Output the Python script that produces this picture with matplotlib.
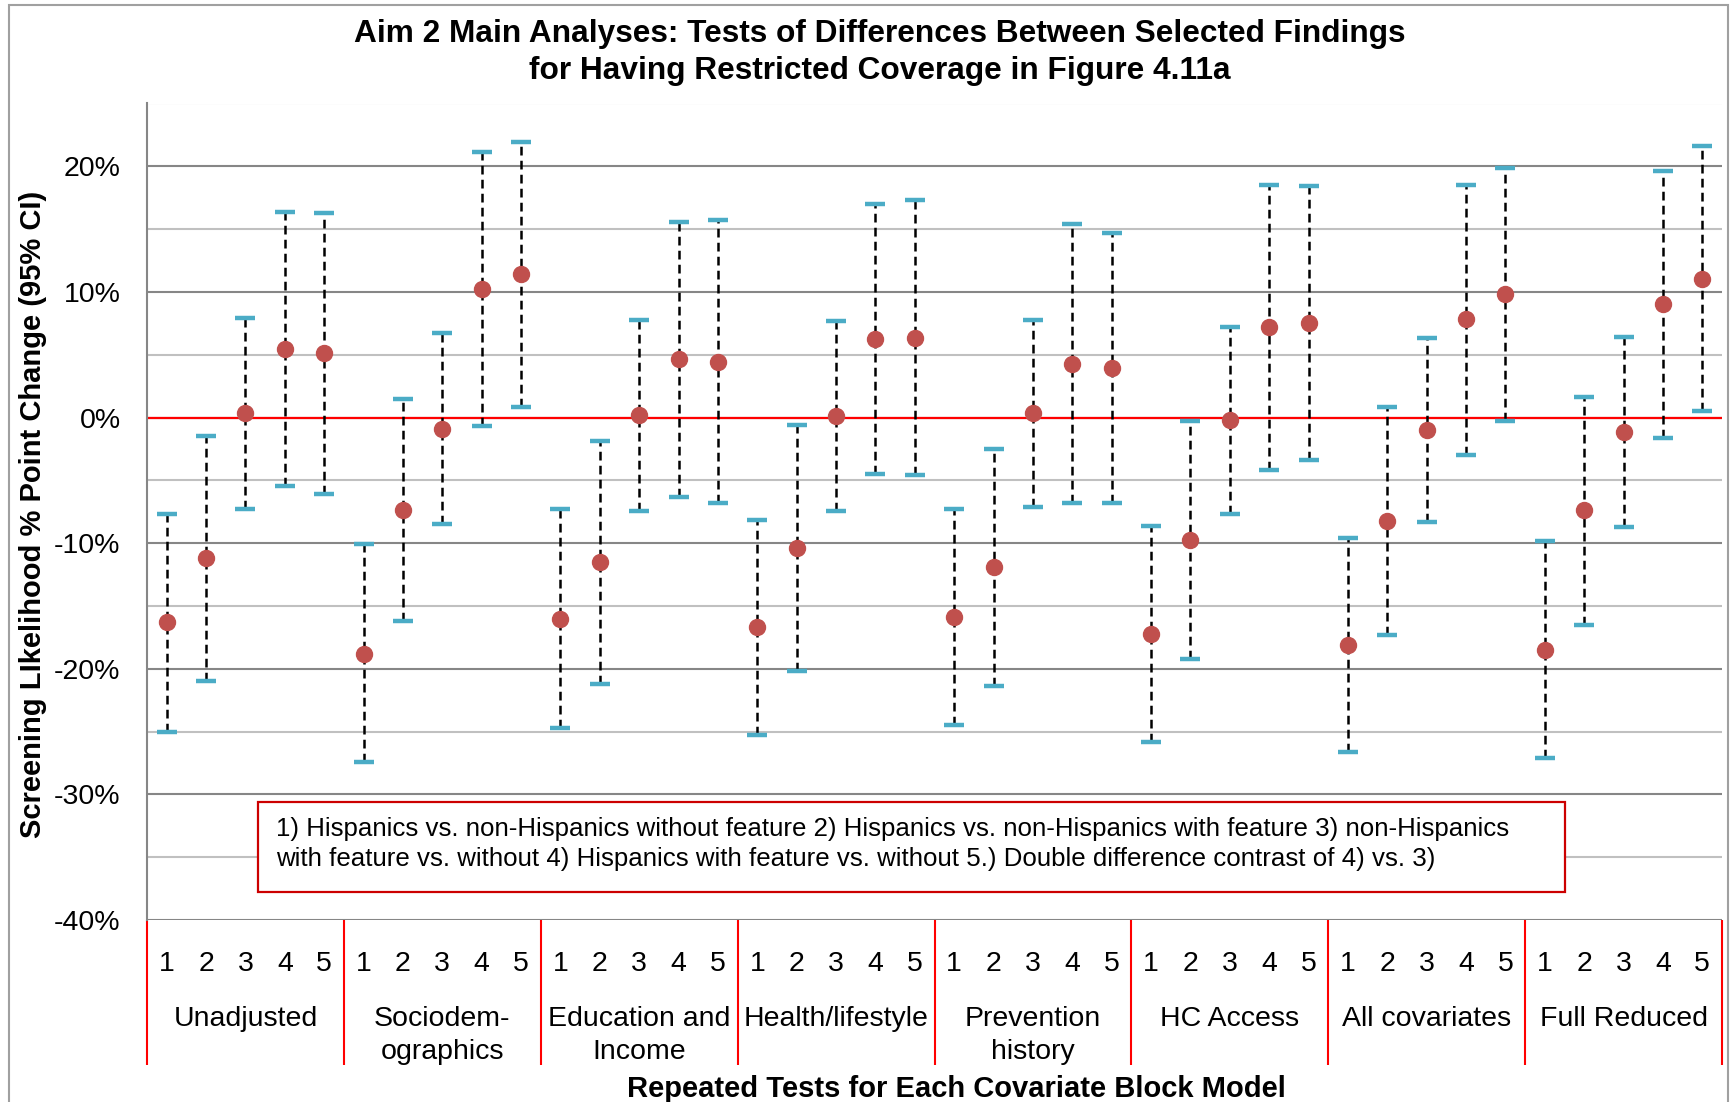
import matplotlib.pyplot as plt
from matplotlib.patches import Rectangle
from matplotlib.ticker import FixedLocator, FuncFormatter

plt.rcParams['font.family'] = ['Liberation Sans', 'DejaVu Sans']

groups = ['Unadjusted', 'Sociodem-\nographics', 'Education and\nIncome', 'Health/lifestyle',
          'Prevention\nhistory', 'HC Access', 'All covariates', 'Full Reduced']
tests = ['1', '2', '3', '4', '5']

estimate = [-16.3, -11.2, 0.35, 5.46, 5.11,
            -18.8, -7.36, -0.9, 10.2, 11.4,
            -16.0, -11.5, 0.17, 4.63, 4.46,
            -16.7, -10.4, 0.14, 6.29, 6.36,
            -15.9, -11.9, 0.35, 4.28, 3.94,
            -17.2, -9.71, -0.21, 7.19, 7.53,
            -18.1, -8.26, -0.97, 7.81, 9.81,
            -18.5, -7.39, -1.14, 9.02, 11.06]
ci_upper = [-7.7, -1.45, 7.95, 16.4, 16.3,
            -10.05, 1.49, 6.7, 21.1, 21.9,
            -7.26, -1.83, 7.77, 15.55, 15.7,
            -8.15, -0.62, 7.7, 17.0, 17.3,
            -7.29, -2.52, 7.74, 15.4, 14.7,
            -8.64, -0.28, 7.22, 18.5, 18.4,
            -9.6, 0.8, 6.36, 18.55, 19.9,
            -9.85, 1.66, 6.43, 19.6, 21.6]
ci_lower = [-25.0, -21.0, -7.25, -5.46, -6.1,
            -27.4, -16.2, -8.5, -0.66, 0.83,
            -24.7, -21.25, -7.43, -6.29, -6.8,
            -25.3, -20.2, -7.46, -4.49, -4.6,
            -24.5, -21.35, -7.12, -6.84, -6.77,
            -25.8, -19.2, -7.64, -4.2, -3.35,
            -26.6, -17.35, -8.29, -2.97, -0.31,
            -27.1, -16.5, -8.74, -1.59, 0.55]

legend_lines = ['1) Hispanics vs. non-Hispanics without feature 2) Hispanics vs. non-Hispanics with feature 3) non-Hispanics',
                'with feature vs. without 4) Hispanics with feature vs. without 5.) Double difference contrast of 4) vs. 3)']

W, H = 1732, 1102
fig = plt.figure(figsize=(W / 100, H / 100), dpi=100)


def fx(x):
    return x / W


def fy(y):
    return 1 - y / H


ax = fig.add_axes([fx(147), fy(920), fx(1722) - fx(147), fy(103.5) - fy(920)])

x = list(range(len(estimate)))
ax.vlines(x, ci_lower, ci_upper, colors='black', linewidth=1.8, linestyles=(0, (3.5, 2.1)), zorder=3)
ax.plot(x, ci_upper, linestyle='none', marker='_', markersize=14, mew=3.2, color='#4BACC6', zorder=4)
ax.plot(x, ci_lower, linestyle='none', marker='_', markersize=14, mew=3.2, color='#4BACC6', zorder=4)
ax.plot(x, estimate, linestyle='none', marker='o', markersize=11.5, color='#C0504D', mec='#C0504D', zorder=5)
ax.axhline(0, color='red', linewidth=1.6, zorder=2)

ax.set_xlim(-0.5, len(estimate) - 0.5)
ax.set_ylim(-40, 25)
ax.yaxis.set_major_locator(FixedLocator(range(-40, 21, 10)))
ax.yaxis.set_minor_locator(FixedLocator(range(-35, 26, 10)))
ax.yaxis.set_major_formatter(FuncFormatter(lambda v, p: f'{v:.0f}%'))
ax.grid(True, axis='y', which='major', color='#868686', linewidth=1.5, zorder=0)
ax.grid(True, axis='y', which='minor', color='#C0C0C0', linewidth=1.5, zorder=0)
ax.set_axisbelow(True)
ax.tick_params(axis='y', which='both', length=0, pad=19, labelsize=20.5)
ax.set_xticks([])
for s in ['top', 'right', 'bottom']:
    ax.spines[s].set_visible(False)
ax.spines['left'].set_color('#868686')
ax.spines['left'].set_linewidth(1.5)

# category axis below the plot
tr = ax.get_xaxis_transform()
n = len(tests)
bounds = [i * n - 0.5 for i in range(len(groups) + 1)]
ax.vlines(bounds, -0.178, 0, colors='red', linewidth=1.5, transform=tr, clip_on=False)
for i, xi in enumerate(x):
    ax.text(xi, -0.054, tests[i % n], transform=tr, ha='center', va='center', fontsize=20.5)
for g, name in enumerate(groups):
    xc = g * n + (n - 1) / 2
    for k, line in enumerate(name.split('\n')):
        ax.text(xc, -0.1215 - k * 0.0404, line, transform=tr, ha='center', va='center', fontsize=20.5)

# titles and axis labels
fig.text(fx(880), fy(34), 'Aim 2 Main Analyses: Tests of Differences Between Selected Findings',
         ha='center', va='center', fontsize=22.8, fontweight='bold')
fig.text(fx(880), fy(70.5), 'for Having Restricted Coverage in Figure 4.11a',
         ha='center', va='center', fontsize=22.8, fontweight='bold')
fig.text(fx(33), fy(514), 'Screening LIkelihood % Point Change (95% CI)', rotation=90,
         ha='center', va='center', fontsize=21, fontweight='bold')
fig.text(fx(956), fy(1089), 'Repeated Tests for Each Covariate Block Model',
         ha='center', va='center', fontsize=21, fontweight='bold')

# note box
fig.patches.append(Rectangle((fx(258), fy(891.5)), fx(1565.5) - fx(258), fy(802) - fy(891.5),
                             transform=fig.transFigure, facecolor='white', edgecolor='#CC0000',
                             linewidth=1.6, zorder=1))
fig.text(fx(276), fy(829), legend_lines[0], ha='left', va='center', fontsize=18.6, zorder=2)
fig.text(fx(276), fy(859), legend_lines[1], ha='left', va='center', fontsize=18.6, zorder=2)

# outer chart frame
fig.patches.append(Rectangle((fx(8.5), fy(1120)), fx(1728) - fx(8.5), fy(5) - fy(1120),
                             transform=fig.transFigure, fill=False, edgecolor='#A0A0A0',
                             linewidth=1.5, zorder=1))

fig.savefig('out.png', dpi=100)
